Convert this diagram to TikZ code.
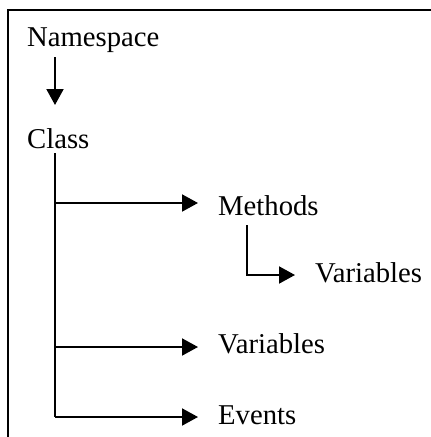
\documentclass[tikz,border=0pt]{standalone}
\usepackage{fontspec}
\setmainfont{Liberation Serif}
\usetikzlibrary{arrows.meta}
\begin{document}
\begin{tikzpicture}[x=1pt,y=-1pt,
  lbl/.style={anchor=base west,inner sep=0pt,font=\fontsize{28.7}{34}\selectfont},
  conn/.style={line width=2pt},
  arr/.style={conn,-{Triangle[length=16pt,width=17pt]}}]
\useasboundingbox (0,0) rectangle (431,437);
% frame (extends beyond the picture on the right and bottom)
\draw[line width=2.8pt] (8,445) -- (8,10) -- (440,10);
% labels
\node[lbl] (ns) at (27,46) {Namespace};
\node[lbl] (cls) at (27,148) {Class};
\node[lbl] (meth) at (218,215) {Methods};
\node[lbl] (subvar) at (315,282) {Variables};
\node[lbl] (var) at (218,353) {Variables};
\node[lbl] (ev) at (218,424) {Events};
% connector points
\coordinate (nsout) at (55,57);
\coordinate (clsin) at (55,105);
\coordinate (clsout) at (55,153);
\coordinate (j1) at (55,203);
\coordinate (j2) at (55,347);
\coordinate (j3) at (55,417);
\coordinate (methout) at (247,225);
\coordinate (j4) at (247,275);
% connectors
\draw[arr] (nsout) -- (clsin);
\draw[conn] (clsout) -- (j3);
\draw[arr] (j1) -- ([xshift=-20pt]j1 -| meth.west);
\draw[arr] (j2) -- ([xshift=-20pt]j2 -| var.west);
\draw[arr] (j3) -- ([xshift=-20pt]j3 -| ev.west);
\draw[arr] (methout) -- (j4) -- ([xshift=-20pt]j4 -| subvar.west);
\end{tikzpicture}
\end{document}
